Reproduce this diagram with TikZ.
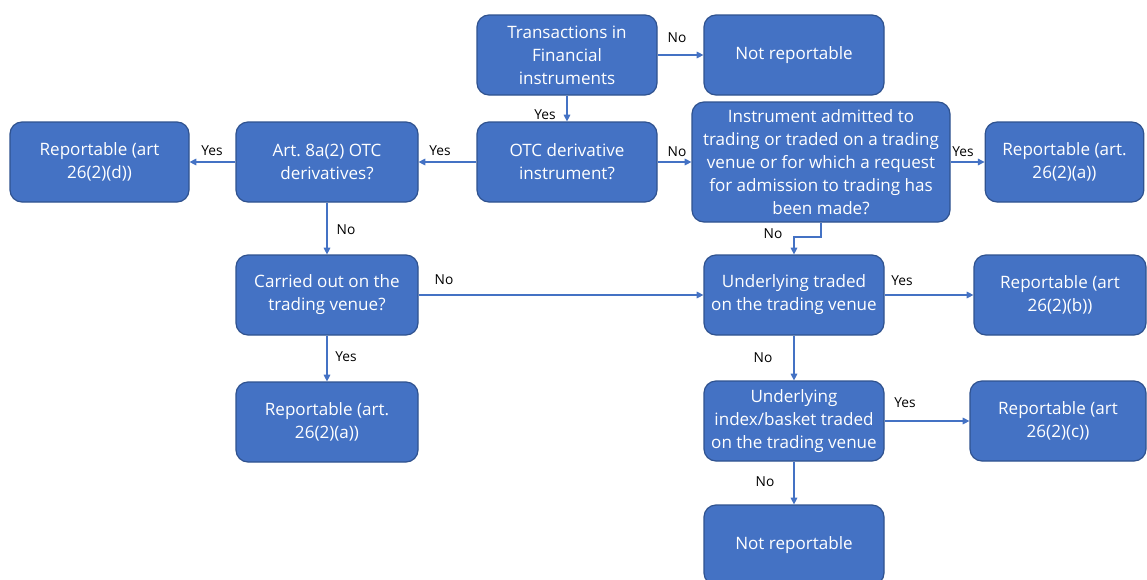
\documentclass[tikz,border=0pt]{standalone}
\usepackage{fontspec}
\setmainfont{Open Sans}
\usetikzlibrary{arrows.meta}
\definecolor{boxfill}{HTML}{4472C4}
\definecolor{boxline}{HTML}{2F528F}
\definecolor{arrowc}{HTML}{4472C4}
\frenchspacing
\begin{document}
\begin{tikzpicture}[x=0.75pt,y=-0.75pt,
  box/.style={draw=boxline, line width=0.9pt, fill=boxfill, rounded corners=9pt,
    text=white, align=center, font=\fontsize{12.8}{17.25}\selectfont,
    minimum width=135pt, minimum height=60pt, inner sep=0pt},
  conn/.style={draw=arrowc, line width=0.8pt, -{Triangle[length=5pt,width=5pt]}},
  lbl/.style={font=\fontsize{10.3}{12}\selectfont, text=black, inner sep=0pt}]
\useasboundingbox (0,0) rectangle (1147,579);
\fill[white] (0,0) rectangle (1147,579);
% nodes
\node[box] (T) at (567,55) {Transactions in\\Financial\\instruments};
\node[box] (NR1) at (794,55) {Not reportable};
\node[box] (OTC) at (567,162) {OTC derivative\\instrument?};
\node[box, minimum width=193.5pt, minimum height=90pt] (I) at (821,162) {Instrument admitted to\\trading or traded on a trading\\venue or for which a request\\for admission to trading has\\been made?};
\node[box, minimum width=119pt] (Ra) at (1064.5,162) {Reportable (art.\\26(2)(a))};
\node[box, minimum width=136.5pt] (A8) at (327,162) {Art.\ 8a(2) OTC\\derivatives?};
\node[box, minimum width=134.25pt] (Rd) at (99.5,162) {Reportable (art\\26(2)(d))};
\node[box, minimum width=136.5pt] (C) at (327,295) {Carried out on the\\trading venue?};
\node[box, minimum width=136.5pt] (Ra2) at (327,422) {Reportable (art.\\26(2)(a))};
\node[box] (U) at (794,295) {Underlying traded\\on the trading venue};
\node[box, minimum width=129pt] (Rb) at (1060,295) {Reportable (art\\26(2)(b))};
\node[box] (X) at (794,421) {Underlying\\index/basket traded\\on the trading venue};
\node[box, minimum width=132pt] (Rc) at (1058,421) {Reportable (art\\26(2)(c))};
\node[box] (NR2) at (794,545) {Not reportable};
% connectors
\draw[conn] (T) -- (NR1);
\draw[conn] (T) -- (OTC);
\draw[conn] (OTC) -- (A8);
\draw[conn] (OTC) -- (I);
\draw[conn] (I) -- (Ra);
\draw[conn] (A8) -- (Rd);
\draw[conn] (A8) -- (C);
\draw[conn] (C) -- (U);
\draw[conn] (U) -- (Rb);
\draw[conn] (C) -- (Ra2);
\draw[conn] (U) -- (X);
\draw[conn] (X) -- (Rc);
\draw[conn] (X) -- (NR2);
\coordinate (bend) at (821,237);
\draw[conn] (I.south) -- (bend) -| (U.north);
% labels
\node[lbl] (l1) at (677,38) {No};
\node[lbl] (l2) at (545,115) {Yes};
\node[lbl] (l3) at (440,151) {Yes};
\node[lbl] (l4) at (677,152) {No};
\node[lbl] (l5) at (963,152) {Yes};
\node[lbl] (l6) at (212,151) {Yes};
\node[lbl] (l7) at (346,230) {No};
\node[lbl] (l8) at (444,280) {No};
\node[lbl] (l9) at (902,281) {Yes};
\node[lbl] (l10) at (346,357) {Yes};
\node[lbl] (l11) at (763,358) {No};
\node[lbl] (l12) at (905,403) {Yes};
\node[lbl] (l13) at (765,482) {No};
\node[lbl] (l14) at (773,234) {No};
\end{tikzpicture}
\end{document}
